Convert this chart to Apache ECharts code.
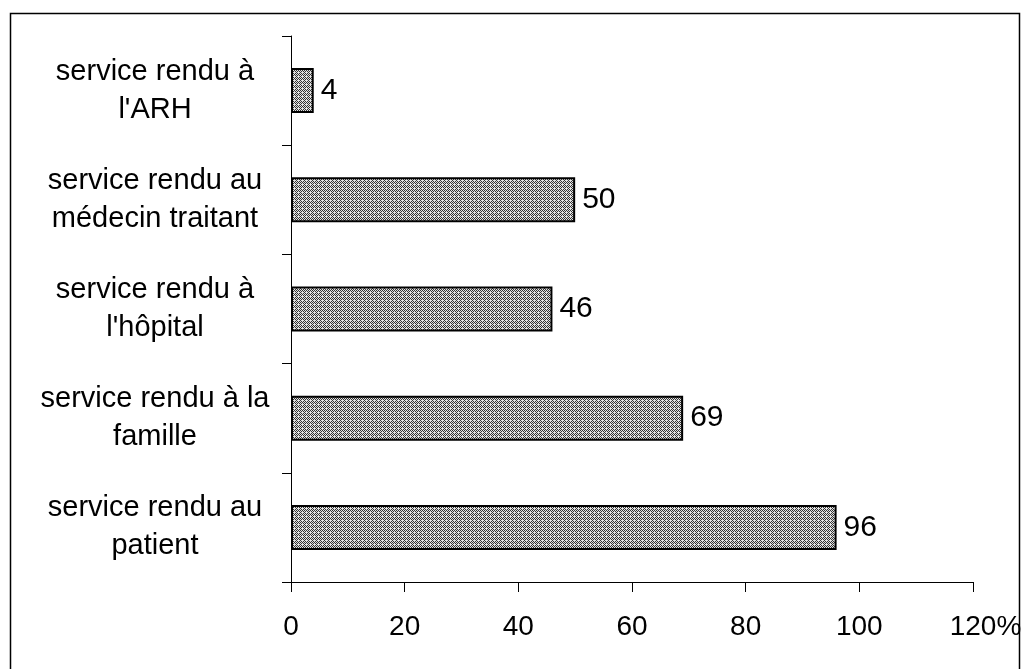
<!DOCTYPE html>
<html>
<head>
<meta charset="utf-8">
<script src="https://cdn.jsdelivr.net/npm/echarts@6/dist/echarts.min.js"></script>
<style>
  html, body { margin: 0; padding: 0; background: #fff; }
  #chart { width: 1022px; height: 669px; }
</style>
</head>
<body>
<div id="chart"></div>
<script>
// categories, bottom to top
var categories = [
  'service rendu au\npatient',
  'service rendu à la\nfamille',
  'service rendu à\nl\'hôpital',
  'service rendu au\nmédecin traitant',
  'service rendu à\nl\'ARH'
]
var values = [96, 69, 46, 50, 4]
var xTicks = [0, 20, 40, 60, 80, 100, 120]

// dithered grey fill, like the scanned print
function makePattern() {
  var c = document.createElement('canvas')
  c.width = 4
  c.height = 4
  var ctx = c.getContext('2d')
  ctx.fillStyle = '#e2e2e2'
  ctx.fillRect(0, 0, 4, 4)
  ctx.fillStyle = '#333'
  for (var y = 0; y < 4; y++) {
    for (var x = 0; x < 4; x++) {
      if ((x + y) % 2 === 0 && !(x === 2 && y === 0)) {
        ctx.fillRect(x, y, 1, 1)
      }
    }
  }
  return c
}

var chart = echarts.init(document.getElementById('chart'))
var font = 'Arial, "Liberation Sans", sans-serif'

chart.setOption({
  animation: false,
  // outer frame
  graphic: [{
    type: 'rect',
    shape: { x: 10.5, y: 13.5, width: 1009, height: 700 },
    style: { fill: 'none', stroke: '#000', lineWidth: 1.5 },
    silent: true
  }],
  grid: {
    left: 291,
    right: 49,
    top: 36,
    bottom: 87,
    containLabel: false,
    outerBoundsMode: 'none'
  },
  xAxis: {
    type: 'value',
    min: 0,
    max: 120,
    interval: 20,
    axisLine: { show: true, lineStyle: { color: '#000', width: 1 } },
    axisTick: { show: true, length: 10, lineStyle: { color: '#000' } },
    splitLine: { show: false },
    axisLabel: {
      color: '#000',
      fontSize: 28,
      fontFamily: font,
      margin: 31,
      formatter: function (v) {
        // keep the number centred on its tick, the % hangs to the right
        return v === xTicks[xTicks.length - 1] ? '{g| }' + v + '%' : String(v)
      },
      rich: {
        g: { width: 25, fontSize: 28 }
      }
    }
  },
  yAxis: {
    type: 'category',
    data: categories,
    axisLine: { show: true, lineStyle: { color: '#000', width: 1 } },
    axisTick: { show: true, length: 9, lineStyle: { color: '#000' } },
    axisLabel: {
      color: '#000',
      fontSize: 29,
      fontFamily: font,
      lineHeight: 38,
      align: 'center',
      margin: 136
    }
  },
  series: [{
    type: 'bar',
    data: values,
    barWidth: 45,
    itemStyle: {
      color: { image: makePattern(), repeat: 'repeat' },
      borderColor: '#000',
      borderWidth: 2
    },
    label: {
      show: true,
      position: 'right',
      distance: 7,
      color: '#000',
      fontSize: 30,
      fontFamily: font
    }
  }]
})
</script>
</body>
</html>
